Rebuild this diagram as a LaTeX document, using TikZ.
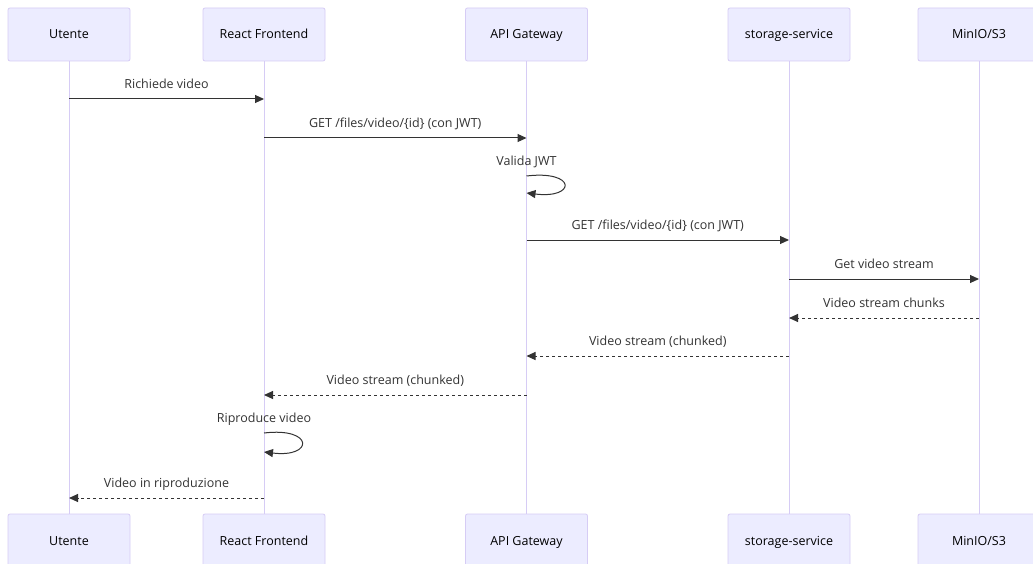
\documentclass[tikz,border=0pt]{standalone}
\usepackage{fontspec}
\setmainfont{Open Sans}
\usetikzlibrary{arrows.meta}

\definecolor{actfill}{HTML}{ECECFF}
\definecolor{actline}{HTML}{D6CCF5}
\definecolor{ink}{HTML}{333333}

\tikzset{
  actor/.style={draw=actline, fill=actfill, rounded corners=2pt, line width=0.8pt,
    minimum width=122pt, minimum height=53pt, text=black, inner sep=0pt,
    text height=10.5pt, text depth=1.5pt},
  lifeline/.style={draw=actline, line width=1pt},
  msg/.style={draw=ink, line width=1pt, -{Triangle[length=9pt,width=8pt]}},
  reply/.style={msg, dash pattern=on 3pt off 3pt},
  lbl/.style={text=ink, inner sep=0pt, above=7pt, text height=9pt, text depth=3pt}
}

\begin{document}
\begin{tikzpicture}[x=1pt, y=-1pt, font=\fontsize{12.5}{15}\selectfont]
\clip (0,0) rectangle (1033,564);
\fill[white] (0,0) rectangle (1033,564);
% actors, top and bottom
\path (69,34.5) node[actor] (utT) {Utente}
      (264,34.5) node[actor] (reT) {React Frontend}
      (526.5,34.5) node[actor] (apT) {API Gateway}
      (789,34.5) node[actor] (stT) {storage-service}
      (979,34.5) node[actor] (miT) {MinIO/S3}
      (69,540.5) node[actor] (utB) {Utente}
      (264,540.5) node[actor] (reB) {React Frontend}
      (526.5,540.5) node[actor] (apB) {API Gateway}
      (789,540.5) node[actor] (stB) {storage-service}
      (979,540.5) node[actor] (miB) {MinIO/S3};
% lifelines
\draw[lifeline] (utT) -- (utB);
\draw[lifeline] (reT) -- (reB);
\draw[lifeline] (apT) -- (apB);
\draw[lifeline] (stT) -- (stB);
\draw[lifeline] (miT) -- (miB);
% message rows
\coordinate (r1) at (0,99);
\coordinate (r2) at (0,138);
\coordinate (r3) at (0,176);
\coordinate (r3b) at (0,193);
\coordinate (r4) at (0,240);
\coordinate (r5) at (0,279);
\coordinate (r6) at (0,318);
\coordinate (r7) at (0,356);
\coordinate (r8) at (0,395);
\coordinate (r9) at (0,433);
\coordinate (r9b) at (0,452);
\coordinate (r10) at (0,498);
% messages
\draw[msg] (utT |- r1) -- node[lbl] {Richiede video} (reT |- r1);
\draw[msg] (reT |- r2) -- node[lbl] {GET /files/video/\{id\} (con JWT)} (apT |- r2);
\draw[msg] (apT |- r3) .. controls +(50,-6) and +(50,6) .. (apT |- r3b);
\node[lbl] at (apT |- r3) {Valida JWT};
\draw[msg] (apT |- r4) -- node[lbl] {GET /files/video/\{id\} (con JWT)} (stT |- r4);
\draw[msg] (stT |- r5) -- node[lbl] {Get video stream} (miT |- r5);
\draw[reply] (miT |- r6) -- node[lbl] {Video stream chunks} (stT |- r6);
\draw[reply] (stT |- r7) -- node[lbl] {Video stream (chunked)} (apT |- r7);
\draw[reply] (apT |- r8) -- node[lbl] {Video stream (chunked)} (reT |- r8);
\draw[msg] (reT |- r9) .. controls +(50,-6) and +(50,6) .. (reT |- r9b);
\node[lbl] at (reT |- r9) {Riproduce video};
\draw[reply] (reT |- r10) -- node[lbl] {Video in riproduzione} (utT |- r10);
\end{tikzpicture}
\end{document}
